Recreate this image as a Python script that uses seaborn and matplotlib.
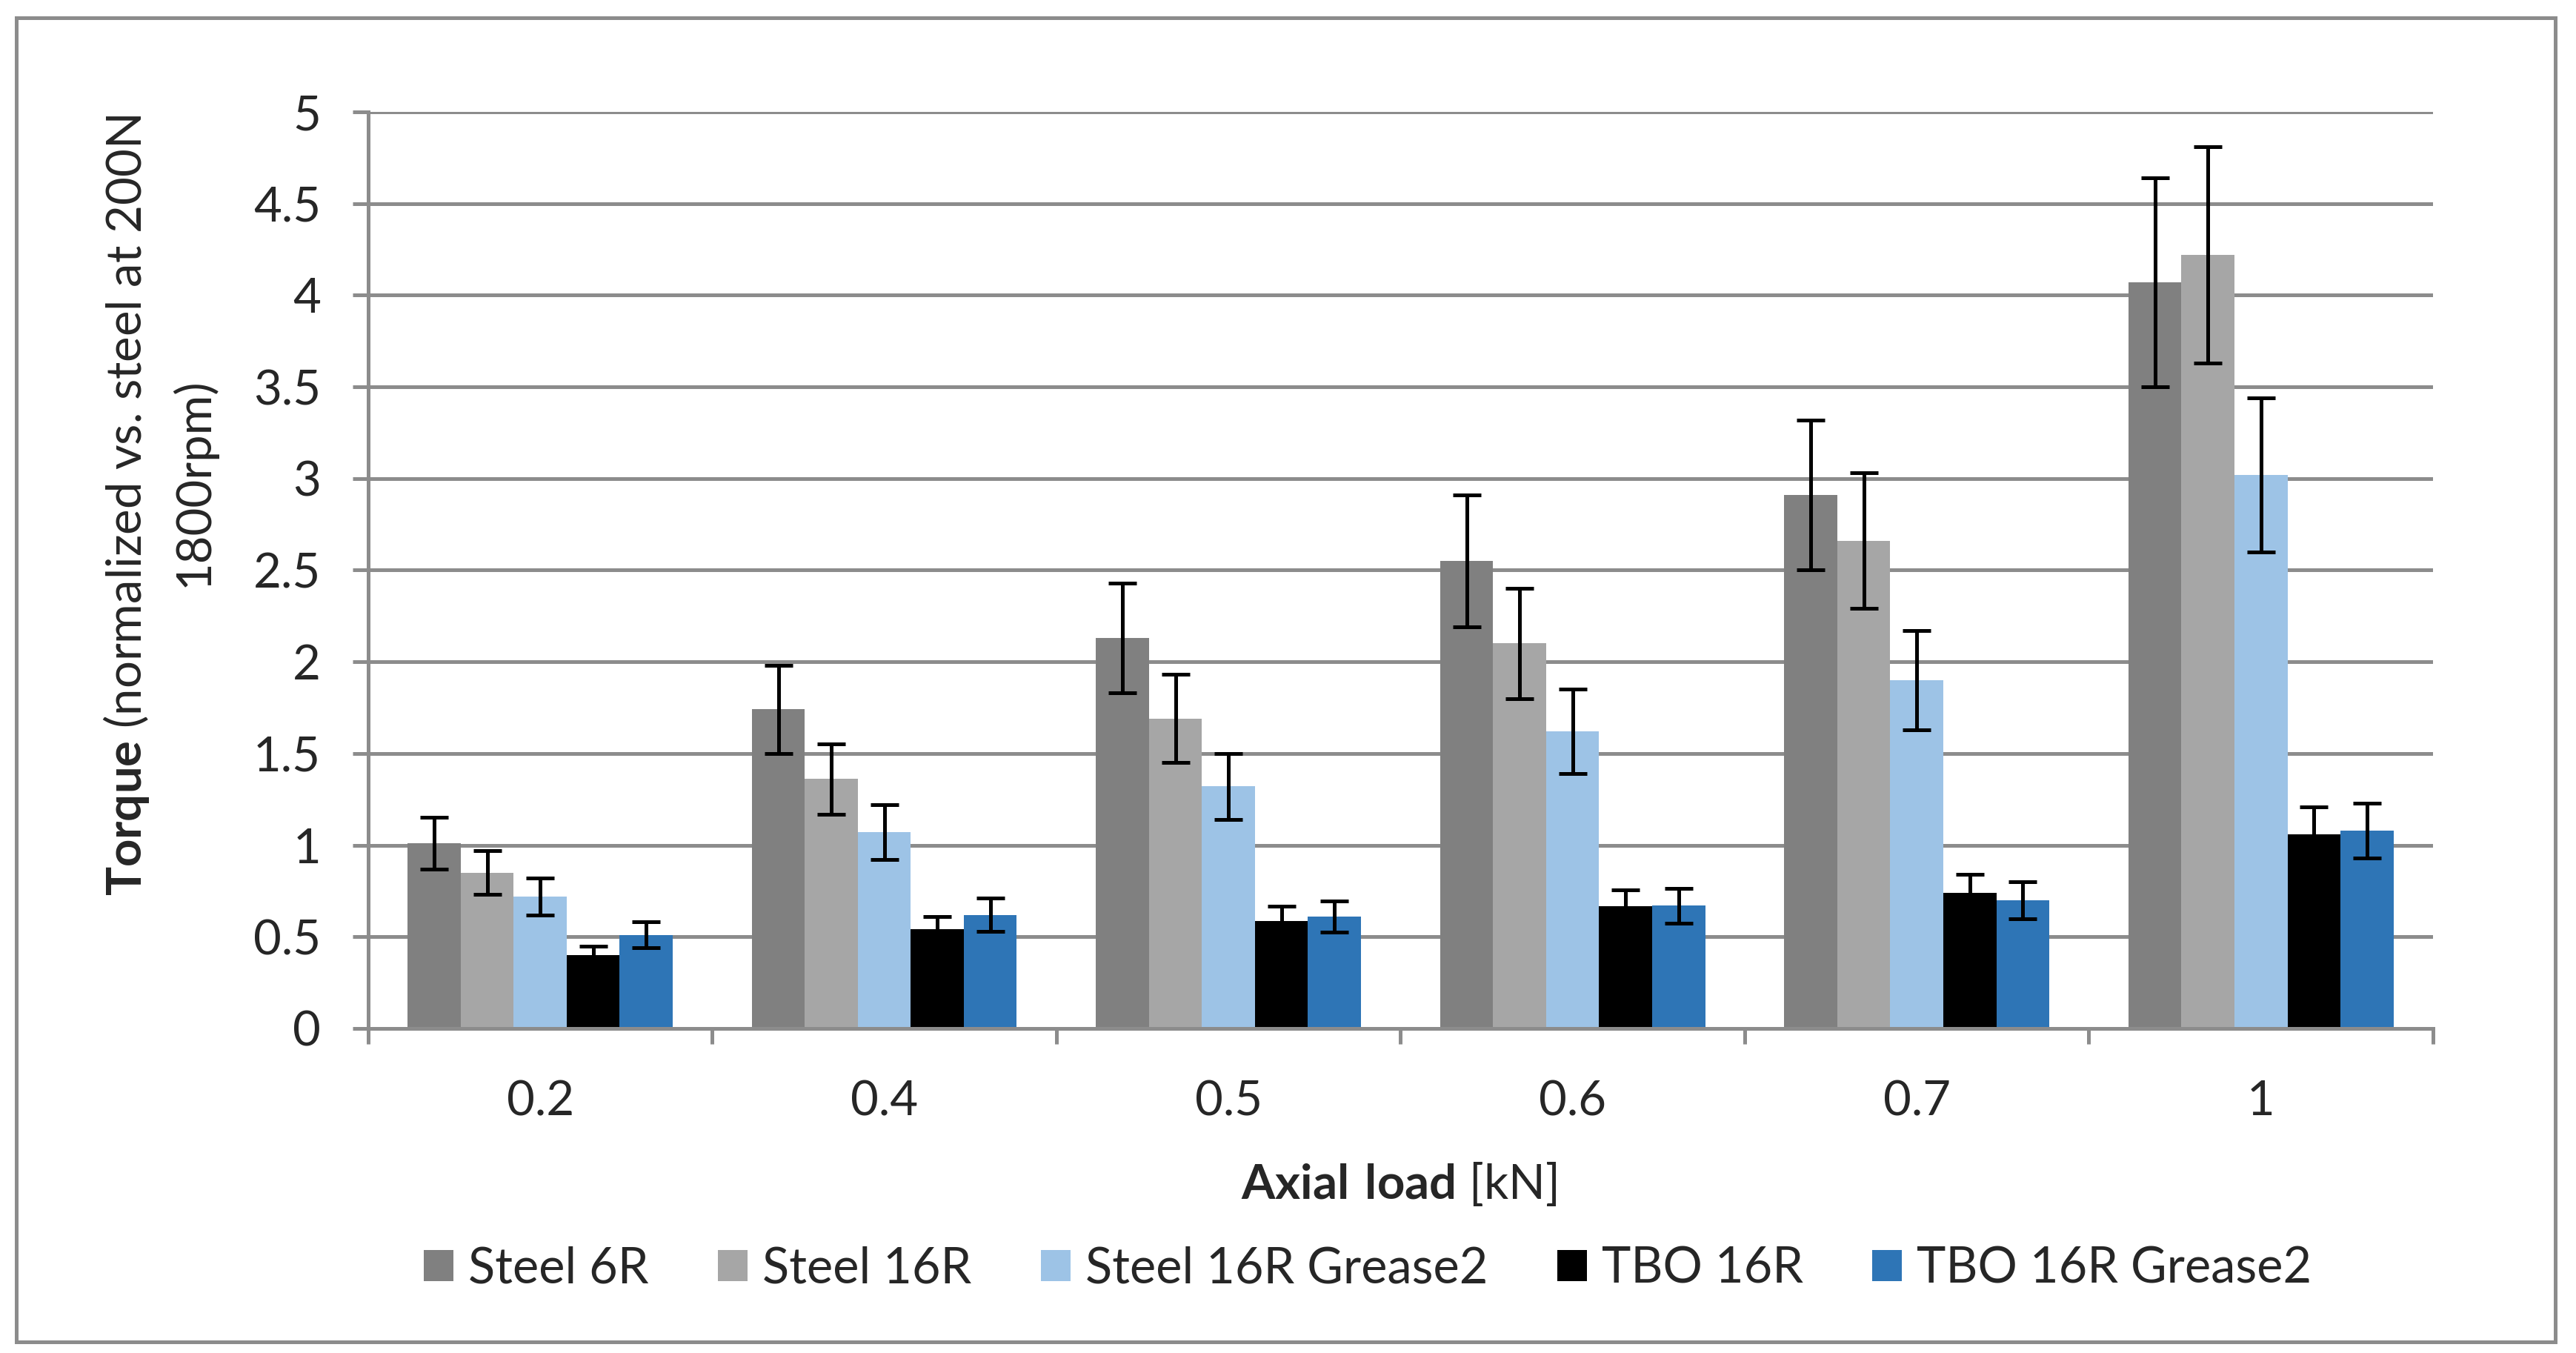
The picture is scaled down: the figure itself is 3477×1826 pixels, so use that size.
import pandas as pd
import seaborn as sns
import matplotlib.pyplot as plt
from matplotlib.patches import Rectangle

# axial loads on the x axis
loads = ['0.2', '0.4', '0.5', '0.6', '0.7', '1']
series = ['Steel 6R', 'Steel 16R', 'Steel 16R Grease2', 'TBO 16R', 'TBO 16R Grease2']
colors = ['#808080', '#A6A6A6', '#9DC3E6', '#000000', '#2E75B6']

steel_6r = [1.01, 1.74, 2.13, 2.55, 2.91, 4.07]
steel_6r_err = [0.14, 0.24, 0.30, 0.36, 0.41, 0.57]
steel_16r = [0.85, 1.36, 1.69, 2.10, 2.66, 4.22]
steel_16r_err = [0.12, 0.19, 0.24, 0.30, 0.37, 0.59]
steel_16r_g2 = [0.72, 1.07, 1.32, 1.62, 1.90, 3.02]
steel_16r_g2_err = [0.10, 0.15, 0.18, 0.23, 0.27, 0.42]
tbo_16r = [0.40, 0.54, 0.585, 0.665, 0.74, 1.06]
tbo_16r_err = [0.05, 0.07, 0.08, 0.09, 0.10, 0.15]
tbo_16r_g2 = [0.51, 0.62, 0.61, 0.67, 0.70, 1.08]
tbo_16r_g2_err = [0.07, 0.09, 0.085, 0.095, 0.10, 0.15]

values = [steel_6r, steel_16r, steel_16r_g2, tbo_16r, tbo_16r_g2]
errors = [steel_6r_err, steel_16r_err, steel_16r_g2_err, tbo_16r_err, tbo_16r_g2_err]

rows = []
for name, vals in zip(series, values):
    for load, v in zip(loads, vals):
        rows.append({'load': load, 'series': name, 'value': v})
df = pd.DataFrame(rows)

sns.set_style('white')
plt.rcParams['font.family'] = ['Lato', 'DejaVu Sans']
plt.rcParams['mathtext.fontset'] = 'custom'
plt.rcParams['mathtext.rm'] = 'Lato'
plt.rcParams['mathtext.bf'] = 'Lato:bold'

GRID = '#8c8c8c'
FS = 23.5

fig = plt.figure(figsize=(17.385, 9.13), dpi=200)
ax = fig.add_axes([0.1429, 0.2399, 0.9445 - 0.1429, 0.9173 - 0.2399])

sns.barplot(data=df, x='load', y='value', hue='series', order=loads, hue_order=series,
            palette=colors, width=0.77, errorbar=None, saturation=1, linewidth=0, ax=ax)

bars = list(ax.containers)
for cont, vals, errs in zip(bars, values, errors):
    xs = [r.get_x() + r.get_width() / 2 for r in cont]
    ax.errorbar(xs, vals, yerr=errs, fmt='none', ecolor='black',
                elinewidth=1.8, capsize=6.8, capthick=1.8, zorder=5)

ax.set_xlim(-0.5, 5.5)
ax.set_ylim(0, 5)
ax.set_yticks([0, 0.5, 1, 1.5, 2, 2.5, 3, 3.5, 4, 4.5, 5])
ax.set_yticklabels(['0', '0.5', '1', '1.5', '2', '2.5', '3', '3.5', '4', '4.5', '5'])
ax.yaxis.grid(True, color=GRID, linewidth=1.8)
ax.set_axisbelow(True)

for side in ['top', 'right']:
    ax.spines[side].set_visible(False)
for side in ['left', 'bottom']:
    ax.spines[side].set_color(GRID)
    ax.spines[side].set_linewidth(1.8)

ax.tick_params(axis='y', direction='out', length=7.5, width=1.8, color=GRID,
               labelsize=FS, pad=15.5, left=True)
ax.tick_params(axis='x', which='major', length=0, labelsize=FS, pad=25)
ax.set_xticks([i - 0.5 for i in range(7)], minor=True)
ax.tick_params(axis='x', which='minor', direction='out', length=7.5, width=1.8,
               color=GRID, bottom=True)

ax.set_xlabel('')
ax.set_ylabel('')

handles = ax.get_legend().legend_handles
ax.get_legend().remove()
fig.legend(handles, series, loc='center', bbox_to_anchor=(0.531, 0.062),
           bbox_transform=fig.transFigure, ncol=5, frameon=False, fontsize=24,
           handlelength=0.6, handleheight=0.6, handletextpad=0.3,
           columnspacing=1.4)

fig.text(0.543, 0.1249, r'$\bf{Axial\ load}$ [kN]', ha='center', va='center', fontsize=FS)
fig.text(0.0489, 0.6265, r'$\bf{Torque}$ (normalized vs. steel at 200N',
         rotation=90, ha='center', va='center', fontsize=FS)
fig.text(0.075, 0.6435, '1800rpm)', rotation=90, ha='center', va='center', fontsize=FS)

fig.add_artist(Rectangle((0.0063, 0.0082), 0.9856, 0.9787, transform=fig.transFigure,
                         fill=False, edgecolor=GRID, linewidth=1.8))

fig.savefig('out.png', dpi=200)
